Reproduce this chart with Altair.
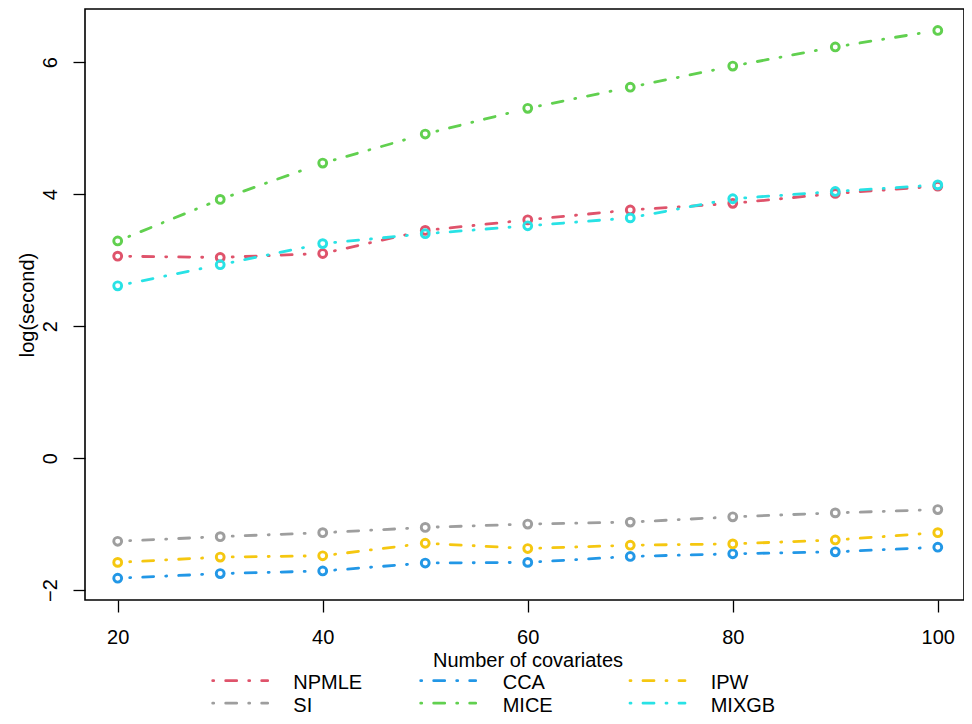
import math
import altair as alt
import pandas as pd

# ---- data ----
covariates = [20, 30, 40, 50, 60, 70, 80, 90, 100]
methods = ["NPMLE", "SI", "CCA", "MICE", "IPW", "MIXGB"]
npmle = [3.06, 3.04, 3.10, 3.45, 3.61, 3.76, 3.86, 4.01, 4.12]
si = [-1.26, -1.19, -1.13, -1.05, -1.00, -0.97, -0.89, -0.83, -0.78]
cca = [-1.82, -1.75, -1.71, -1.59, -1.58, -1.49, -1.45, -1.42, -1.35]
mice = [3.29, 3.92, 4.47, 4.91, 5.30, 5.62, 5.94, 6.23, 6.48]
ipw = [-1.58, -1.50, -1.48, -1.29, -1.37, -1.32, -1.30, -1.24, -1.13]
mixgb = [2.61, 2.93, 3.25, 3.40, 3.52, 3.64, 3.93, 4.04, 4.14]
colors = ["#DF536B", "#9E9E9E", "#2297E6", "#61D04F", "#F5C710", "#28E2E5"]
x_ticks = [20, 40, 60, 80, 100]
y_ticks = [-2, 0, 2, 4, 6]

series = dict(zip(methods, [npmle, si, cca, mice, ipw, mixgb]))

# ---- layout ----
W, H = 879, 591
KX = 10.251                      # px per covariate
XDOM = [16.81, 16.81 + W / KX]
YDOM = [-2.15, 6.805]
FONT = "Liberation Sans"
FS = 20
kx = W / (XDOM[1] - XDOM[0])
ky = H / (YDOM[1] - YDOM[0])
GAP = 12  # pixel gap between point and line (R type="b")

pt_rows, seg_rows = [], []
for m in methods:
    ys = series[m]
    for xv, yv in zip(covariates, ys):
        pt_rows.append({"method": m, "x": xv, "y": yv})
    for i in range(len(covariates) - 1):
        x0, y0, x1, y1 = covariates[i], ys[i], covariates[i + 1], ys[i + 1]
        L = math.hypot((x1 - x0) * kx, (y1 - y0) * ky)
        t = GAP / L
        seg_rows.append({
            "method": m,
            "x": x0 + t * (x1 - x0), "y": y0 + t * (y1 - y0),
            "x2": x1 - t * (x1 - x0), "y2": y1 - t * (y1 - y0),
        })
pts = pd.DataFrame(pt_rows)
segs = pd.DataFrame(seg_rows)
legend_df = pd.DataFrame({"method": methods})

cscale = alt.Scale(domain=methods, range=colors)
xscale = alt.Scale(domain=XDOM, nice=False, zero=False)
yscale = alt.Scale(domain=YDOM, nice=False, zero=False)

xaxis = alt.Axis(values=x_ticks, format="d", grid=False, domain=False, tickSize=12,
                 tickColor="black", tickWidth=1.3, labelFont=FONT, labelFontSize=FS,
                 labelColor="black", labelBaseline="alphabetic", labelPadding=31,
                 labelFlush=False, labelOverlap=False,
                 title="Number of covariates", titleFont=FONT, titleFontSize=FS,
                 titleFontWeight="normal", titleColor="black", titleBaseline="alphabetic",
                 titleY=66, titleX=(W + 6) / 2, titleAlign="center")
yaxis = alt.Axis(values=y_ticks, format="d", grid=False, domain=False, tickSize=12,
                 tickColor="black", tickWidth=1.3, labelFont=FONT, labelFontSize=FS,
                 labelColor="black", labelAngle=270, labelAlign="center",
                 labelBaseline="alphabetic", labelPadding=17, labelFlush=False,
                 labelOverlap=False,
                 title="log(second)", titleFont=FONT, titleFontSize=FS,
                 titleFontWeight="normal", titleColor="black", titleAngle=270,
                 titleBaseline="alphabetic", titleAlign="center", titleX=-52, titleY=H / 2)

DASH = [1, 12, 11, 12]
lines = alt.Chart(segs).mark_rule(strokeWidth=2.8, strokeDash=DASH, strokeCap="round").encode(
    x=alt.X("x:Q", scale=xscale, axis=xaxis),
    y=alt.Y("y:Q", scale=yscale, axis=yaxis),
    x2="x2:Q", y2="y2:Q",
    color=alt.Color("method:N", scale=cscale, legend=None),
)
points = alt.Chart(pts).mark_point(shape="circle", filled=False, size=62, strokeWidth=2.9,
                                   opacity=1).encode(
    x=alt.X("x:Q", scale=xscale),
    y=alt.Y("y:Q", scale=yscale),
    color=alt.Color("method:N", scale=cscale, legend=None),
)

# ---- manual R-style legend (3 columns, filled column-wise) ----
col_sym = [127.7, 335.7, 545.0]
col_txt = [208.3, 417.7, 625.7]
row_line = [671.7, 694.2]
row_base = [680.0, 702.5]
legend_layers = []
for idx, m in enumerate(methods):
    c, r = idx // 2, idx % 2
    base = alt.Chart(legend_df).transform_filter(alt.datum.method == m)
    legend_layers.append(
        base.mark_rule(strokeWidth=2.8, strokeDash=DASH, strokeCap="round").encode(
            x=alt.value(col_sym[c]), x2=alt.value(col_sym[c] + 55), y=alt.value(row_line[r]),
            color=alt.Color("method:N", scale=cscale, legend=None))
    )
    legend_layers.append(
        base.mark_text(align="left", baseline="alphabetic", font=FONT, fontSize=FS,
                       color="black").encode(
            x=alt.value(col_txt[c]), y=alt.value(row_base[r]), text="method:N")
    )

chart = alt.layer(lines, points, *legend_layers).properties(
    width=W, height=H,
    padding={"left": 77, "top": 1, "right": 0, "bottom": 116},
    autosize=alt.AutoSizeParams(type="none"),
).configure_view(stroke="black", strokeWidth=1.6)

chart.save("out.html", embed_options={"renderer": "svg", "actions": False})
